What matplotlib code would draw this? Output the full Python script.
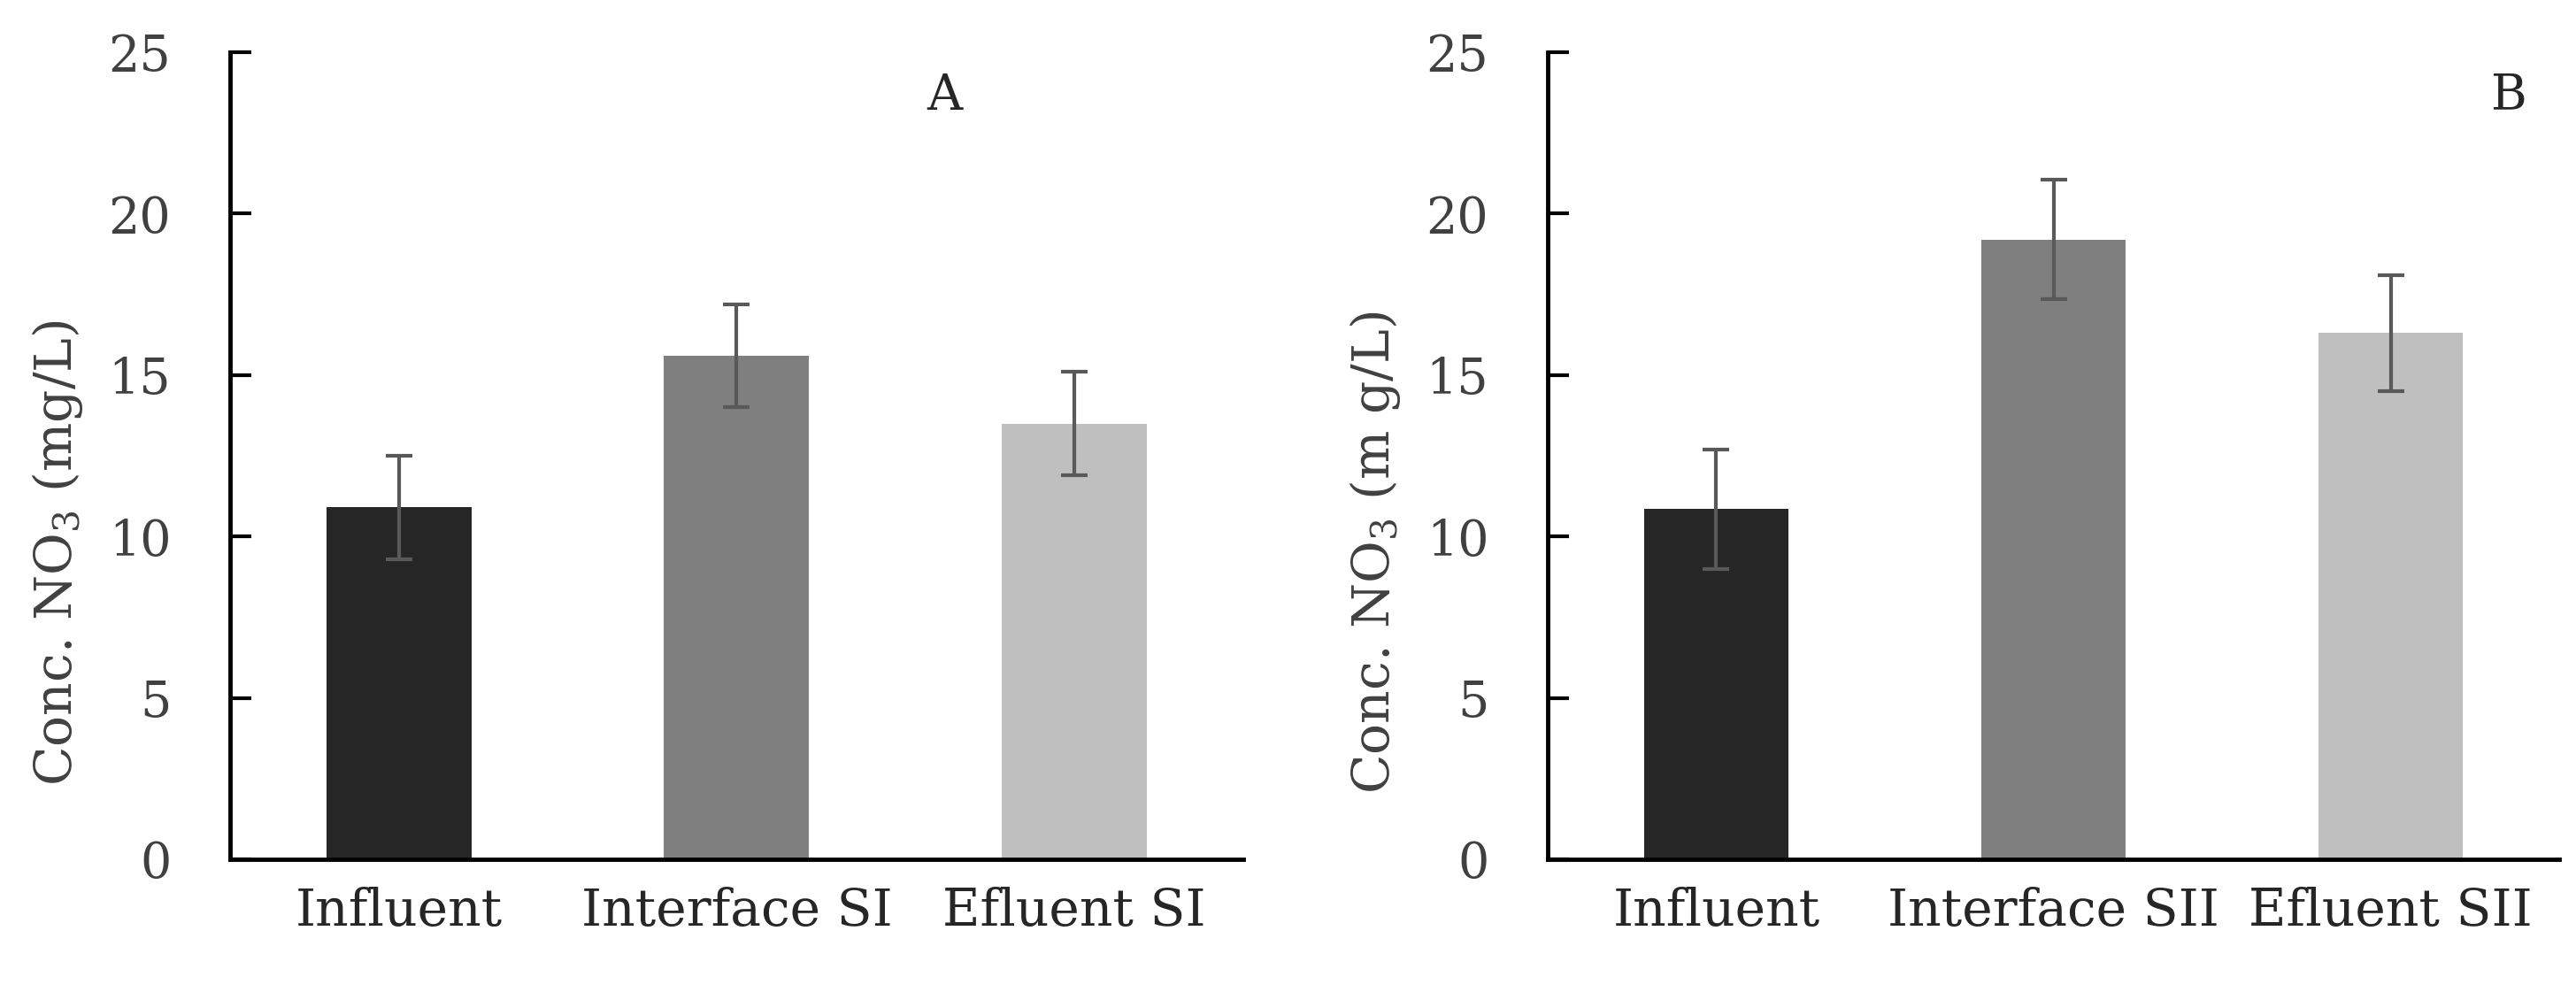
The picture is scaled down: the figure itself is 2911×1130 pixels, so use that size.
import matplotlib
matplotlib.use('Agg')
import matplotlib.pyplot as plt

# values
categories_a = ['Influent', 'Interface SI', 'Efluent SI']
values_a = [10.9, 15.6, 13.5]
errors_a = [1.6, 1.6, 1.6]

categories_b = ['Influent', 'Interface SII', 'Efluent SII']
values_b = [10.85, 19.2, 16.3]
errors_b = [1.85, 1.85, 1.8]

bar_colors = ['#262626', '#7f7f7f', '#bfbfbf']
yticks = [0, 5, 10, 15, 20, 25]

plt.rcParams['font.family'] = ['DejaVu Serif']
plt.rcParams['mathtext.default'] = 'regular'

fig = plt.figure(figsize=(29.11, 11.30), dpi=100)
ax1 = fig.add_axes([0.0893, 0.1407, 0.3933, 0.8071])
ax2 = fig.add_axes([0.6008, 0.1407, 0.3927, 0.8071])

panels = [
    (ax1, categories_a, values_a, errors_a, 'Conc. NO$_3$ (mg/L)', 'A', 0.705),
    (ax2, categories_b, values_b, errors_b, 'Conc. NO$_3$ (m g/L)', 'B', 0.950),
]

for ax, cats, vals, errs, ylab, tag, tx in panels:
    xs = list(range(len(cats)))
    ax.bar(xs, vals, width=0.43, color=bar_colors, zorder=2)
    ax.errorbar(xs, vals, yerr=errs, fmt='none', ecolor='#595959',
                elinewidth=3, capsize=11, capthick=3, zorder=3)
    ax.set_xlim(-0.5, 2.5)
    ax.set_ylim(0, 25)
    ax.set_yticks(yticks)
    ax.set_xticks(xs)
    ax.set_xticklabels(cats)
    for s in ['top', 'right']:
        ax.spines[s].set_visible(False)
    for s in ['left', 'bottom']:
        ax.spines[s].set_linewidth(3.5)
    ax.tick_params(axis='y', direction='in', length=17, width=3,
                   pad=48, labelsize=40, labelcolor='#404040')
    ax.tick_params(axis='x', length=0, pad=22, labelsize=42,
                   labelcolor='#262626')
    ax.set_ylabel(ylab, fontsize=42, color='#404040')
    ax.yaxis.set_label_coords(-0.143, 0.38)
    ax.text(tx, 0.946, tag, transform=ax.transAxes, fontsize=40,
            ha='center', va='center', color='#262626')

fig.savefig('out.png', dpi=100)
